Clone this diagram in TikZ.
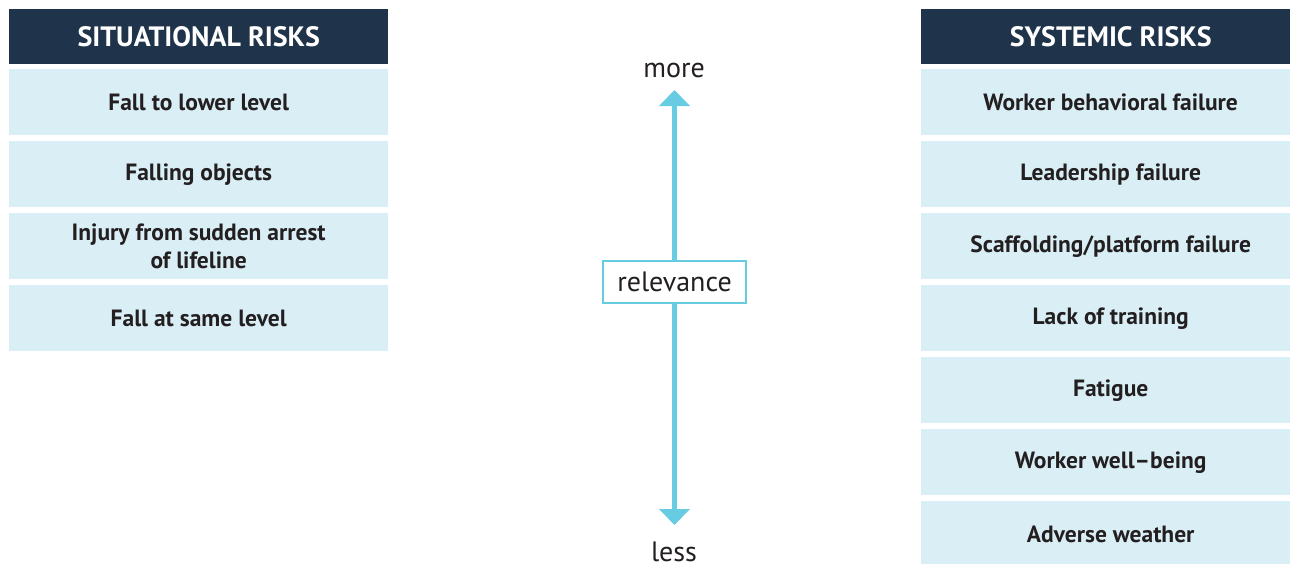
\documentclass[tikz,border=0pt]{standalone}
\usepackage{fontspec}
\setmainfont{PT Sans}
\usetikzlibrary{arrows.meta}
\definecolor{navy}{HTML}{1F344A}
\definecolor{pale}{HTML}{D9EEF5}
\definecolor{cyanline}{HTML}{67CBE2}
\definecolor{ink}{HTML}{231F20}
\tikzset{
  hdr/.style={fill=navy, text=white, minimum width=379pt, minimum height=55pt, inner sep=0pt, anchor=north west,
    font=\fontsize{28}{32}\selectfont\bfseries},
  riskbox/.style={fill=pale, text=ink, minimum width=379pt, minimum height=66pt, inner sep=0pt, anchor=north west,
    align=center, font=\fontsize{23.5}{28}\selectfont\bfseries},
  lbl/.style={text=ink, inner sep=0pt, anchor=base, font=\fontsize{28}{32}\selectfont},
  relbox/.style={draw=cyanline, line width=2.2pt, fill=white, text=ink, minimum width=143pt, minimum height=42pt,
    inner sep=0pt, font=\fontsize{28}{32}\selectfont},
  axis/.style={draw=cyanline, line width=5pt, -{Triangle[width=30pt,length=16pt]}}
}
\begin{document}
\begin{tikzpicture}[x=1pt,y=-1pt]
\clip (0,0) rectangle (1290,563);
\fill[white] (0,0) rectangle (1290,563);
% left column
\node[hdr] (lh) at (9,9) {SITUATIONAL RISKS};
\node[riskbox] (l1) at (9,69) {Fall to lower level};
\node[riskbox] (l2) at (9,141) {Falling objects};
\node[riskbox] (l3) at (9,213) {Injury from sudden arrest\\of lifeline};
\node[riskbox] (l4) at (9,285) {Fall at same level};
% right column
\node[hdr] (rh) at (921,9) {SYSTEMIC RISKS};
\node[riskbox] (r1) at (921,69) {Worker behavioral failure};
\node[riskbox] (r2) at (921,141) {Leadership failure};
\node[riskbox] (r3) at (921,213) {Scaffolding/platform failure};
\node[riskbox] (r4) at (921,285) {Lack of training};
\node[riskbox] (r5) at (921,357) {Fatigue};
\node[riskbox] (r6) at (921,429) {Worker well--being};
\node[riskbox] (r7) at (921,501) {Adverse weather};
% relevance axis
\node[relbox] (rel) at (674.5,282) {relevance};
\coordinate (top) at (674.5,90);
\coordinate (bot) at (674.5,525);
\draw[axis] (rel.north) -- (top);
\draw[axis] (rel.south) -- (bot);
\node[lbl] (more) at (674,77) {more};
\node[lbl] (less) at (674,561) {less};
\end{tikzpicture}
\end{document}
